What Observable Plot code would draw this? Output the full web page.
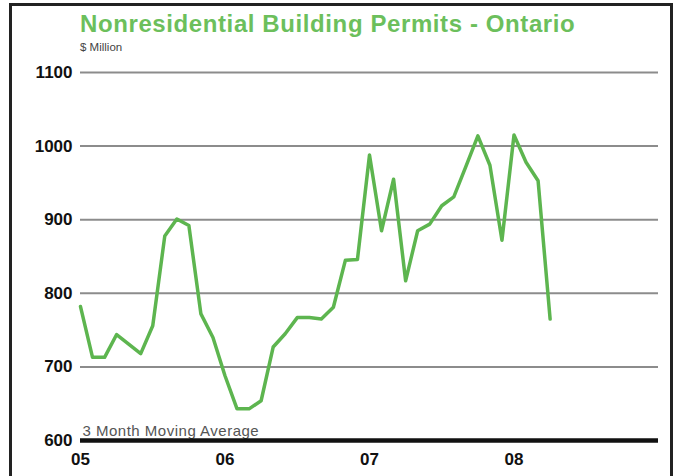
<!DOCTYPE html>
<html><head><meta charset="utf-8">
<script src="https://cdn.jsdelivr.net/npm/d3@7"></script>
<script src="https://cdn.jsdelivr.net/npm/@observablehq/plot@0.6"></script>
<style>
html,body{margin:0;padding:0;background:#fff;}
#wrap{position:relative;width:678px;height:476px;overflow:hidden;font-family:"Liberation Sans",Arial,sans-serif;background:#fff;}
#frame{position:absolute;left:9px;top:3px;width:658px;height:490px;border:3px solid #222;border-bottom:none;pointer-events:none;}
#title{position:absolute;left:80px;top:10px;font-size:24px;line-height:27px;letter-spacing:0.6px;font-weight:bold;color:#6cbf5c;white-space:nowrap;}
#sub{position:absolute;left:80px;top:41px;font-size:11.5px;line-height:13px;color:#444;white-space:nowrap;}
#chart{position:absolute;left:0;top:0;}
</style>
</head>
<body>
<div id="wrap">
  <div id="chart"></div>
  <div id="title">Nonresidential Building Permits - Ontario</div>
  <div id="sub">$ Million</div>
  <div id="frame"></div>
</div>
<script>
// Monthly, Jan 2005 .. Apr 2008 (3 month moving average, $ million)
const months = ["2005-01","2005-02","2005-03","2005-04","2005-05","2005-06","2005-07","2005-08","2005-09","2005-10","2005-11","2005-12",
                "2006-01","2006-02","2006-03","2006-04","2006-05","2006-06","2006-07","2006-08","2006-09","2006-10","2006-11","2006-12",
                "2007-01","2007-02","2007-03","2007-04","2007-05","2007-06","2007-07","2007-08","2007-09","2007-10","2007-11","2007-12",
                "2008-01","2008-02","2008-03","2008-04"];
const permits = [782,713,713,744,731,718,756,878,901,892,772,740,
                 688,643,643,654,727,745,767,767,765,781,845,846,
                 988,885,955,817,885,894,919,931,972,1014,974,872,
                 1015,978,953,765];
const yearLabels = ["05","06","07","08"];
const yTicks = [600,700,800,900,1000,1100];
const gridValues = [700,800,900,1000,1100];
const baseValue = [600];
const note = ["3 Month Moving Average"];

const data = months.map((m, i) => ({i, value: permits[i]}));

const chart = Plot.plot({
  width: 678,
  height: 476,
  marginLeft: 80,
  marginRight: 20,
  marginTop: 72,
  marginBottom: 36,
  style: {fontFamily: "'Liberation Sans', Arial, sans-serif", background: "transparent"},
  x: {domain: [0, 48]},
  y: {domain: [600, 1100]},
  marks: [
    Plot.ruleY(gridValues, {stroke: "#8c8c8c", strokeWidth: 2}),
    Plot.axisY({ticks: yTicks, tickFormat: d => String(d), tickSize: 0, tickPadding: 8, fontSize: 17, fontWeight: "bold", fill: "#111", label: null}),
    Plot.axisX({ticks: [0, 12, 24, 36], tickFormat: d => yearLabels[d / 12], tickSize: 0, tickPadding: 12, fontSize: 17, fontWeight: "bold", fill: "#111", label: null}),
    Plot.text(note, {frameAnchor: "bottom-left", textAnchor: "start", lineAnchor: "bottom", dx: 2, dy: -5, fontSize: 15, fill: "#555", style: "letter-spacing:0.5px"}),
    Plot.line(data, {x: "i", y: "value", stroke: "#5db54f", strokeWidth: 3.5, strokeLinejoin: "round"}),
    Plot.ruleY(baseValue, {stroke: "#111", strokeWidth: 4.5})
  ]
});
chart.querySelectorAll("text").forEach(t => { if (t.textContent === note[0]) t.setAttribute("letter-spacing", "0.5"); });
document.getElementById("chart").appendChild(chart);
</script>
</body></html>
